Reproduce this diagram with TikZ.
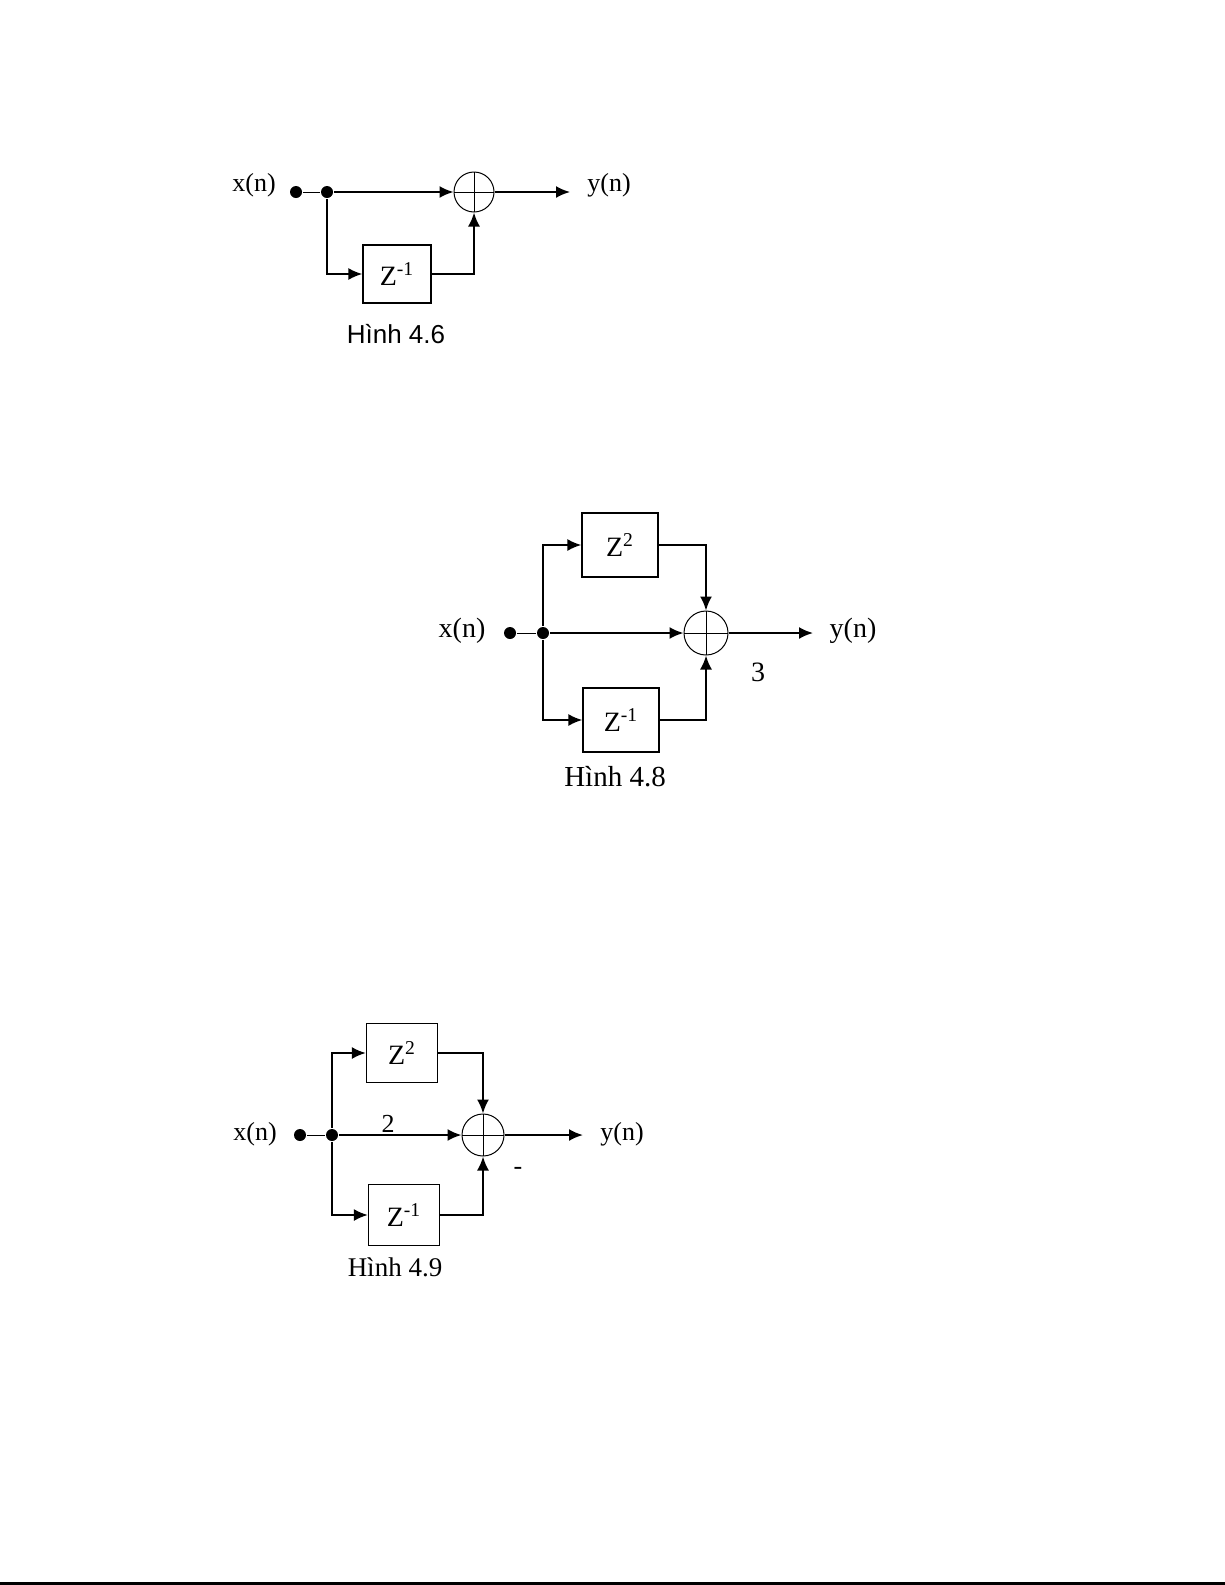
\documentclass[tikz,border=0pt]{standalone}
\usepackage{fontspec}
\setmainfont{Liberation Serif}
\setsansfont{Liberation Sans}
\usetikzlibrary{arrows.meta}

\begin{document}
\begin{tikzpicture}
      [x = .5pt, y = -.5pt, line width = 1pt,
       lbl/.style = {font = \fontsize{13}{15}\selectfont, inner sep = 0pt},
       blk/.style = {draw, line width = .6pt, inner sep = 0pt,
                     font = \fontsize{14}{16}\selectfont},
       dot/.style = {circle, fill = black, inner sep = 0pt, minimum size = 6pt},
       sum/.style = {circle, draw, line width = .5pt, inner sep = 0pt,
                     path picture = {\draw[line width = .5pt]
                       (path picture bounding box.north) -- (path picture bounding box.south)
                       (path picture bounding box.west) -- (path picture bounding box.east);}},
       arr/.style = {-{Latex[length = 7pt, width = 6pt]}}]
      \useasboundingbox (0,0) rectangle (1225,1585);
      \foreach \n/\x/\y in {a1/296/192, b1/327/192, a2/510/633, b2/543/633,
                            a3/300/1135, b3/332/1135}
        \node[dot] (\n) at (\x,\y) {};
      \node[lbl] (x1) at (254,185) {x(n)};
      \node[lbl] (y1) at (609,185) {y(n)};
      \node[sum, minimum size = 20pt] (s1) at (474,192) {};
      \node[blk, minimum width = 34pt, minimum height = 29pt] (d1) at (397,274) {Z\textsuperscript{-1}};
      \coordinate (o1) at (570,192);
      \node[font = \sffamily\fontsize{13}{15}\selectfont] (c1) at (396,334) {Hình 4.6};
      \draw[line width = .5pt] (a1) -- (b1);
      \draw[arr] (b1) -- (s1);
      \draw[arr] (b1) |- (d1.west);
      \draw[arr] (d1.east) -| (s1.south);
      \draw[arr] (s1) -- (o1);
      \node[lbl, font = \fontsize{14}{16}\selectfont] (x2) at (462,631) {x(n)};
      \node[lbl, font = \fontsize{14}{16}\selectfont] (y2) at (853,631) {y(n)};
      \node[sum, minimum size = 22pt] (s2) at (706,633) {};
      \node[blk, minimum width = 38pt, minimum height = 32pt] (u2) at (620,545) {Z\textsuperscript{2}};
      \node[blk, minimum width = 38pt, minimum height = 32pt] (l2) at (621,720) {Z\textsuperscript{-1}};
      \coordinate (o2) at (813,633);
      \node[lbl, font = \fontsize{14}{16}\selectfont] (g2) at (758,672) {3};
      \node[font = \fontsize{14.5}{16}\selectfont] (c2) at (615,777) {Hình 4.8};
      \draw[line width = .5pt] (a2) -- (b2);
      \draw[arr] (b2) -- (s2);
      \draw[arr] (b2) |- (u2.west);
      \draw[arr] (b2) |- (l2.west);
      \draw[arr] (u2.east) -| (s2.north);
      \draw[arr] (l2.east) -| (s2.south);
      \draw[arr] (s2) -- (o2);
      \node[lbl] (x3) at (255,1134) {x(n)};
      \node[lbl] (y3) at (622,1134) {y(n)};
      \node[sum, minimum size = 21pt] (s3) at (483,1135) {};
      \node[blk, minimum width = 35.5pt, minimum height = 29.5pt] (u3) at (402,1053) {Z\textsuperscript{2}};
      \node[blk, minimum width = 35.5pt, minimum height = 30.5pt] (l3) at (404,1215) {Z\textsuperscript{-1}};
      \coordinate (o3) at (583,1135);
      \node[lbl] (g3) at (388,1124) {2};
      \node[lbl] (m3) at (518,1171) {-};
      \node[font = \fontsize{13.5}{15}\selectfont] (c3) at (395,1267) {Hình 4.9};
      \draw[line width = .5pt] (a3) -- (b3);
      \draw[arr] (b3) -- (s3);
      \draw[arr] (b3) |- (u3.west);
      \draw[arr] (b3) |- (l3.west);
      \draw[arr] (u3.east) -| (s3.north);
      \draw[arr] (l3.east) -| (s3.south);
      \draw[arr] (s3) -- (o3);
      \draw[line width = 1.2pt] (0,1583.5) -- (1225,1583.5);
      \end{tikzpicture}
\end{document}
